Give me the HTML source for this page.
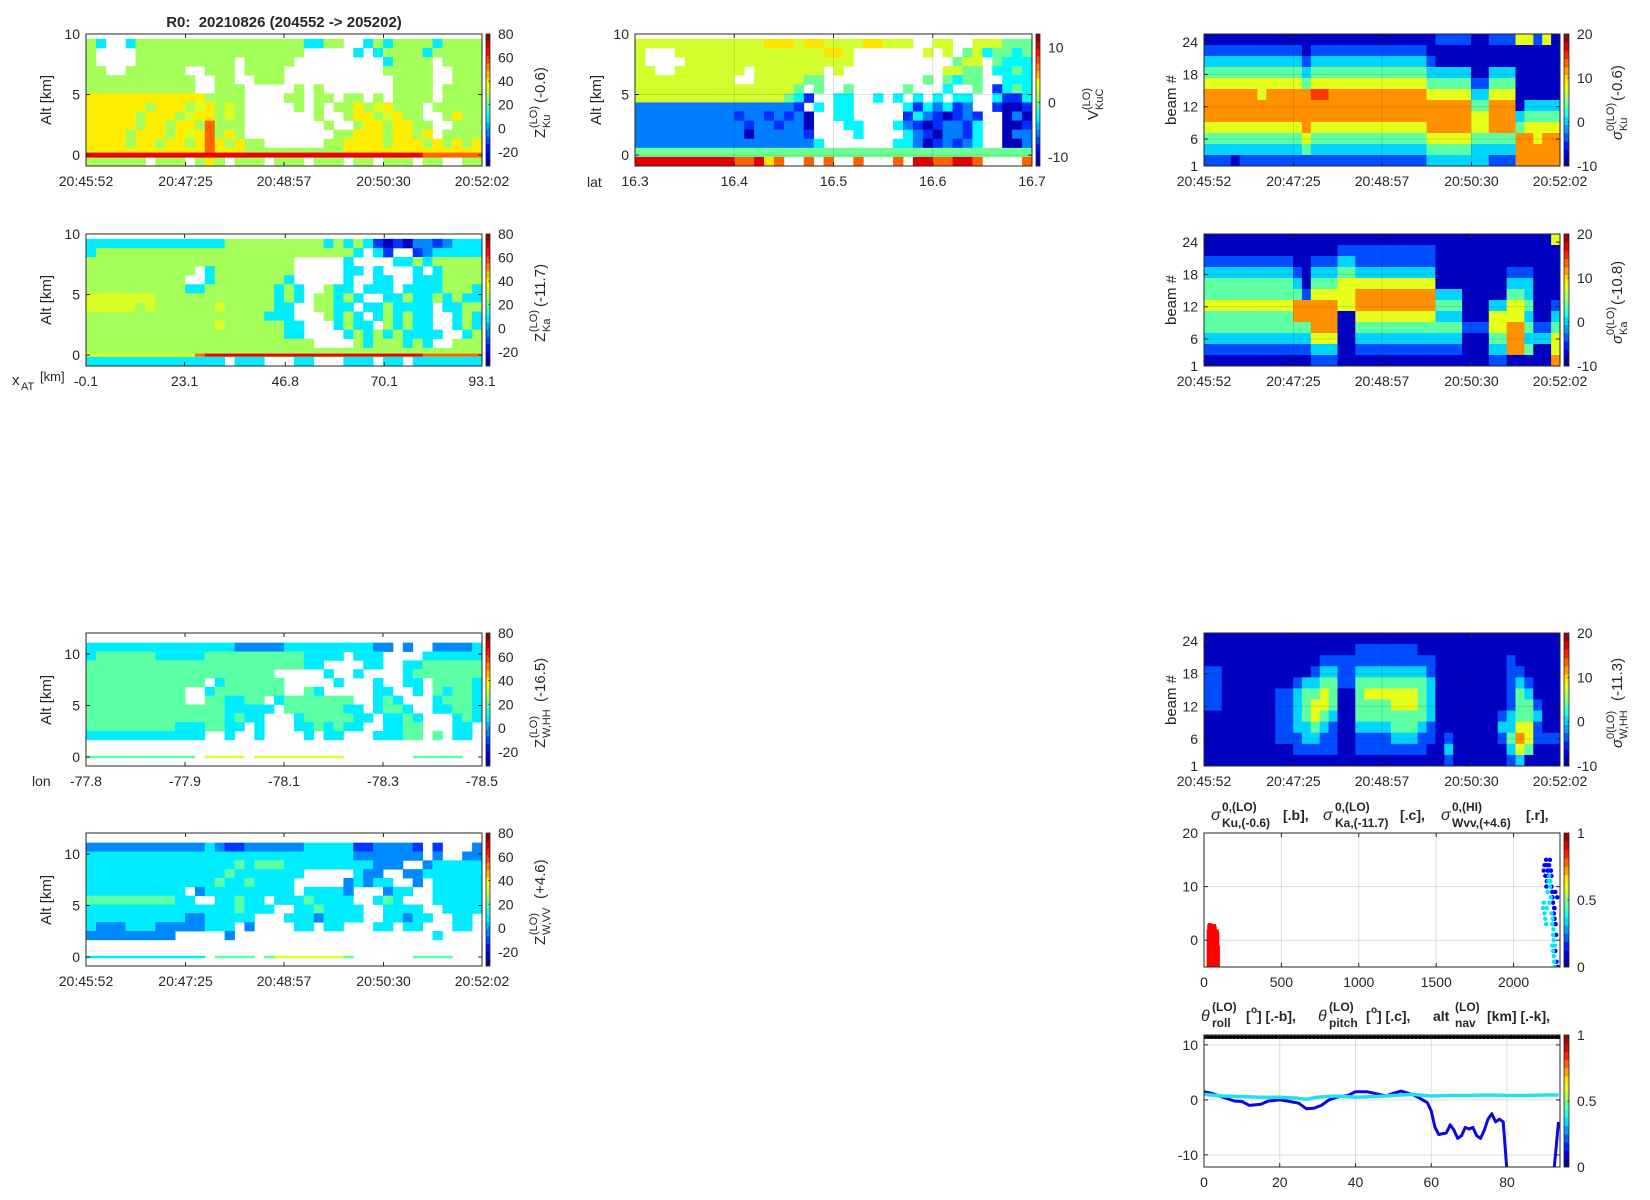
<!DOCTYPE html>
<html><head><meta charset="utf-8">
<style>
html,body{margin:0;padding:0;background:#fff;}
svg{display:block;font-family:"Liberation Sans",Arial,sans-serif;}
text{fill:#262626;}
</style></head>
<body>
<svg id="fig" width="1650" height="1200" viewBox="0 0 1650 1200" xmlns="http://www.w3.org/2000/svg">
<rect x="0" y="0" width="1650" height="1200" fill="#ffffff"/>
<defs>
<clipPath id="clipS"><rect x="1204" y="833" width="356" height="134"/></clipPath>
<clipPath id="clipP"><rect x="1204" y="1035" width="356" height="132"/></clipPath>
</defs>
<g id="layer"></g>

<text x="284" y="27" font-size="15" font-weight="bold" text-anchor="middle" xml:space="preserve">R0:  20210826 (204552 -&gt; 205202)</text>

<text transform="translate(51,100) rotate(-90)" font-size="15" text-anchor="middle">Alt [km]</text>
<text transform="translate(51,300) rotate(-90)" font-size="15" text-anchor="middle">Alt [km]</text>
<text transform="translate(601,100) rotate(-90)" font-size="15" text-anchor="middle">Alt [km]</text>
<text transform="translate(51,700) rotate(-90)" font-size="15" text-anchor="middle">Alt [km]</text>
<text transform="translate(51,900) rotate(-90)" font-size="15" text-anchor="middle">Alt [km]</text>
<text transform="translate(1176,100) rotate(-90)" font-size="15" text-anchor="middle">beam #</text>
<text transform="translate(1176,300) rotate(-90)" font-size="15" text-anchor="middle">beam #</text>
<text transform="translate(1176,700) rotate(-90)" font-size="15" text-anchor="middle">beam #</text>

<text x="587" y="187" font-size="14">lat</text>
<text x="32" y="786" font-size="14">lon</text>
<g>
<text x="12" y="385" font-size="15">x</text><text x="21" y="390" font-size="11">AT</text><text x="40" y="381" font-size="13">[km]</text>
</g>

<g transform="translate(545,100) rotate(-90)">
<text x="-38" y="0" font-size="15">Z</text><text x="-28" y="-8" font-size="11">(LO)</text><text x="-28" y="5" font-size="11">Ku</text><text x="-3" y="0" font-size="15">(-0.6)</text>
</g>
<g transform="translate(545,300) rotate(-90)">
<text x="-42" y="0" font-size="15">Z</text><text x="-32" y="-8" font-size="11">(LO)</text><text x="-32" y="5" font-size="11">Ka</text><text x="-7" y="0" font-size="15">(-11.7)</text>
</g>
<g transform="translate(545,700) rotate(-90)">
<text x="-48" y="0" font-size="15">Z</text><text x="-38" y="-8" font-size="11">(LO)</text><text x="-38" y="5" font-size="11">W,HH</text><text x="-2" y="0" font-size="15">(-16.5)</text>
</g>
<g transform="translate(545,900) rotate(-90)">
<text x="-45" y="0" font-size="15">Z</text><text x="-35" y="-8" font-size="11">(LO)</text><text x="-35" y="5" font-size="11">W,VV</text><text x="1" y="0" font-size="15">(+4.6)</text>
</g>
<g transform="translate(1098,98) rotate(-90)">
<text x="-22" y="0" font-size="15">V</text><text x="-12" y="-8" font-size="11">(LO)</text><text x="-12" y="5" font-size="11">KuC</text>
</g>
<g transform="translate(1622,100) rotate(-90)">
<text x="-40" y="0" font-size="15" font-style="italic">σ</text><text x="-31" y="-8" font-size="11">0(LO)</text><text x="-31" y="5" font-size="11">Ku</text><text x="-1" y="0" font-size="15">(-0.6)</text>
</g>
<g transform="translate(1622,300) rotate(-90)">
<text x="-44" y="0" font-size="15" font-style="italic">σ</text><text x="-35" y="-8" font-size="11">0(LO)</text><text x="-35" y="5" font-size="11">Ka</text><text x="-5" y="0" font-size="15">(-10.8)</text>
</g>
<g transform="translate(1622,700) rotate(-90)">
<text x="-48" y="0" font-size="15" font-style="italic">σ</text><text x="-39" y="-8" font-size="11">0(LO)</text><text x="-39" y="5" font-size="11">W,HH</text><text x="-1" y="0" font-size="15">(-11.3)</text>
</g>

<g font-weight="bold">
<text x="1211" y="820" font-size="16" font-style="italic" font-weight="normal">σ</text>
<text x="1222" y="811" font-size="12">0,(LO)</text>
<text x="1222" y="827" font-size="12">Ku,(-0.6)</text>
<text x="1283" y="820" font-size="14">[.b],</text>
<text x="1323" y="820" font-size="16" font-style="italic" font-weight="normal">σ</text>
<text x="1335" y="811" font-size="12">0,(LO)</text>
<text x="1335" y="827" font-size="12">Ka,(-11.7)</text>
<text x="1400" y="820" font-size="14">[.c],</text>
<text x="1441" y="820" font-size="16" font-style="italic" font-weight="normal">σ</text>
<text x="1452" y="811" font-size="12">0,(HI)</text>
<text x="1452" y="827" font-size="12">Wvv,(+4.6)</text>
<text x="1526" y="820" font-size="14">[.r],</text>
</g>
<g font-weight="bold">
<text x="1201" y="1021" font-size="16" font-style="italic" font-weight="normal">θ</text>
<text x="1212" y="1011" font-size="12">(LO)</text>
<text x="1212" y="1027" font-size="12">roll</text>
<text x="1246" y="1021" font-size="14">[</text><text x="1251" y="1013" font-size="10">o</text><text x="1257" y="1021" font-size="14">] [.-b],</text>
<text x="1318" y="1021" font-size="16" font-style="italic" font-weight="normal">θ</text>
<text x="1329" y="1011" font-size="12">(LO)</text>
<text x="1329" y="1027" font-size="12">pitch</text>
<text x="1366" y="1021" font-size="14">[</text><text x="1371" y="1013" font-size="10">o</text><text x="1377" y="1021" font-size="14">] [.c],</text>
<text x="1433" y="1021" font-size="14">alt</text>
<text x="1455" y="1011" font-size="12">(LO)</text>
<text x="1455" y="1027" font-size="12">nav</text>
<text x="1487" y="1021" font-size="14">[km] [.-k],</text>
</g>
</svg>

<script>
const zCodeChars = ['d','b','B','c','G','g','y','Y','o','r'];
const zCodeVals  = [-25,-12,-3,8,20,28,34,40,55,68];
const vCodeChars = ['d','b','B','c','g','y','Y','o','r'];
const vCodeVals  = [-10.2,-7.5,-5.6,-2.7,0,2.4,4.1,7.2,10.1];
const sCodeChars = ['d','b','c','g','y','o','r'];
const sCodeVals  = [-8,-4,0,4,8,12,14.6];

const timeTickLabels = ['20:45:52','20:47:25','20:48:57','20:50:30','20:52:02'];
const timeTickSec = [0,93,185,278,370];
const latTickLabels = ['16.3','16.4','16.5','16.6','16.7'];
const latTickVals = [16.3,16.4,16.5,16.6,16.7];
const xatTickLabels = ['-0.1','23.1','46.8','70.1','93.1'];
const xatTickVals = [-0.1,23.1,46.8,70.1,93.1];
const lonTickLabels = ['-77.8','-77.9','-78.1','-78.3','-78.5'];
const lonTickFrac = [0,0.25,0.5,0.75,1];
const altTicks10 = [0,5,10];
const altTicks12 = [0,5,10];
const beamTicks = [1,6,12,18,24];
const zCbTicks = [-20,0,20,40,60,80];
const vCbTicks = [-10,0,10];
const sCbTicks = [-10,0,10,20];
const unitCbTicks = [0,0.5,1];
const sigXTicks = [0,500,1000,1500,2000];
const sigYTicks = [0,10,20];
const attXTicks = [0,20,40,60,80];
const attYTicks = [-10,0,10];

const kuRows = [
"gc..cgggggggggggggggggccgg..cgcggggcgggg",
"g....ggggggggggggggggg.....c.cggggcggggg",
"g....gggggggggg.ggggg.........cgggg.gggg",
"gg..gggggg..ggg.gggg..........ggggg..ggg",
"ggggggggggg..gg..ggg...........gggg..ggg",
"ggggggggggg..ggg.....g.g.......gggg.gggg",
"YYYYYYYYYYYYgggg....gg.gg.gg.g.gggg.gggg",
"YYYYYYgYYYgyYgyg.....g.g.ggYgyYggg.ggggg",
"YYYYYgYYYgyYYgyg.......g..gYYgyYgg..gYgg",
"YYYYYgYYgYYgoggg........g..gYYgYYgg..ggg",
"YYYYgYYYgYyYogYg.........ggYYYgYYgY.gggg",
"YYYYgYYgYYgYoYgYgg......ggYYYYgYYYgYgYgY",
"YYYYYYYYYYYYoYYYggggggggggYYYYYYYYYYYYYY",
"gggggg.ggg.gYg.ggg.ggg.ggg.gg.ggg.gg..gg"];
const kuSurf = "rrrrrrrrrrrrrrrrrrrrrrrrrrrrrrrrrroooooo";

const kaRows = [
"ccccccccccccccggggggggggcgcgcbdbdBBbBccc",
"cggggggggggggggggggggggggggc.cb..bBccccc",
"ggggggggggggggggggggg.....c....ccgcggggg",
"ggggggggggg.cgggggggg.....cc.c...c.cgggg",
"gggggggggg..cgggggggc.....c..cc..cccgggg",
"ggggggggggccgggggggcgc..gcc.ccc.ccccgggc",
"yyyyyyyggggggggggggcgc.ggcgc..ccgccgcgcc",
"yyyyygyggggggygggggcc..ggcc.ccgcccc.ccgg",
"ggggggggggggggggggccc...gcgc.cgcgcc..cgc",
"gggggggggggggyggggggcc...cgcc.gcgcc..cgc",
"ggggggggggggggggggggcc....cgcgcgcccc..cg",
"ggggggggggggggggggggggg....gcgggcgc..ggg",
"gggggggggggggggggggggggggggggggggggggggg",
"cccccccccccccc.ccc...cc...ccc.cc.ccccccc"];
const kaSurf = "yyyyyyyyyyyorrrrrrrrrrrrrrrrrrrrrroooooo";

const vRows = [
"yyyyyyyyyyyyyYYYyYYyyyyYYyyy..yy..yyyggg",
"y...yyyyyyyyyyyyyyyYYy.......y.y.gycggcg",
"y....yyyyyyyyyyyyyyyyy..........gyy.gccc",
"yy..yyyyyyy.yyyyyyy.y..........yygg.ccgc",
"yyyyyyyyyy..yyyyygg..........g.gcgg..ccc",
"yyyyyyyyyyyyyyyyg.g..g.....g...c..g.bcgc",
"yyyyyyyyyyyyyyygcb..cc..c.c.c.c.cc..cbbc",
"BBBBBBBBBBBBBBBBb.c.cc.....cbcBcbB..bddb",
"BBBBBBBBBBbBBbBbBd..cc.....bcBbdbBb..dBd",
"BBBBBBBBBBBbBBbBBd...cc...cBbdbBBbc..ddb",
"BBBBBBBBBBBdBBBBBb....c....cBbdBBbc..dBB",
"BBBBBBBBBBBBBBBBBBc.......ccBdbBbBc..ddB",
"gggggggggggggggggggggggggggggggggggggggg",
"rrrrrrrrrroorYo..o.o..o...o.rroorro....o"];

const hhRows = [
"cccccccccccccccBBBBBcccccccccBB.B..BBBBc",
"cGGGGGGcccccGGGGGGGGGGcccc.ccc....cccccc",
"GGGGGGGGGGGGGGGGGGGGGGcc....cc..ccGGGGGG",
"GGGGGGGGGGGGGGGGGGG.....c..c....cGGGGGGG",
"GGGGGGGGGGGG.cGGGGGG.....c...c..cc.GGGGc",
"GGGGGGGGGG..cGGGGGGG..Gc.....cc..c.GcGGc",
"GGGGGGGGGG..GGccGG.cGGGGGGG..cGc...cGGGc",
"GGGGGGGGGGGGGGccccc.GGGGGGcc.cGGc..ccGGc",
"GGGGGGGGGGGGGGcGcc...cGGGGGcc.ccGc...cGc",
"GGGGGGGGGcccGGcc.c...ccGcGcc..ccGG...cc.",
"cccccccccccc..c..c....c.cc...cccGG.G.cc.",
"........................................",
"........................................",
"........................................"];
const hhSurf = "GGGGGGGGGGG.yyyy.yyyyyyyyy.......GGGGG..";

const vvRows = [
"BBBBBBBBBBBBcBbbBBBBBBcccccbbBBBBb.b...B",
"cccccccccccccccccccccccccccBBBBBBB.B..BB",
"cccccccccccccccGcGGGcccccccccBBB..Bccccc",
"ccccccccccccccGccccccc.....cBB..BBcccccc",
"cccccccccccccGccGcccc.....BcBcc..B.ccccc",
"cccccccccc.Bccccccccc.ccccB...Bcc..ccccc",
"GGGGGGGGGcc..ccGcc.cccGcccc..cGc...ccccc",
"cccccccccccccccGccc..ccGcccc..cccc..cccc",
"ccccccccccBBccccc...cccBcccc..ccBcc..cc.",
"cBBBcccBBBBBccc.B....cc.cc...cc.cc...cc.",
"BBBBBBBBB.....B....................c....",
"........................................",
"........................................",
"........................................"];
const vvSurf = "cccccccccccc.GGGG.GyyyyyyyG......GGGG...";

const kuSigCols = ["dbcgyoooygcb","dbcgyoooygcb","dbcgyoooygcb","dbcgyoooygcd","dbcgyoooygcb","dbcgyoooygcb","dbcgyyooygcb","dbcgyoooygcb","dbcgyoooygcb","dbcgyoooygcb","dbcgyoooygcb",
"ddbcgooooygb","dbcgyrooygcb","dbcgyrooygcb","dbcgyoooygcb","dbcgyoooygcb","dbcgyoooygcb","dbcgyoooygcb","dbcgyoooygcb","dbcgyoooygcb","dbcgyoooygcb","dbcgyoooygcb","dbcgyoooygcb","dbcgyoooygcb","dbcgyoooygcb",
"ddbcgyoooygc","bddcgyoooygc","bddcgyoooygc","bddcgyoooygc","bddcgyoooygc","ddddbcgyygcc","ddddbcgyygcc","bddcgyooogcb","bddcgyooogcb","bddcgyooogcb",
"yddddddcgooo","ydddddcgyooo","bdddddcgyyoo","ydddddcgyooo","ddddddcgyooo"];
const kaSigCols = ["ddbcggyggcbd","ddbcggyggcbd","ddbcggyggcbd","ddbcggyggcbd","ddbcggyggcbd","ddbcggyggcbd","ddbcggyggcbd","ddbcggyggcbd","ddbcggyggcbd","ddbcggyggcbd",
"dddbcgoogcbd","dddddboogcbd","ddbcgyoooycb","ddbcgyoooycb","ddbcgyoooycb","dbcgyyyddddd","dbcgyyyddddd",
"dbbcyooygcbd","dbbcyooygcbd","dbbcyooygcbd","dbbcyooygcbd","dbbcyooygcbd","dbbcyooygcbd","dbbcyooygcbd","dbbcyooygcbd","dbbcyooygcbd",
"dddddcgcgcbd","dddddcgcgcbd","dddddcgcgcbd","ddddddddbddd","ddddddddbddd","ddddddddbddd","ddddddcyygcb","ddddddcyygcb",
"dddbcgyyoood","dddbcgyyoood","dddbccgcgcgd","ddddddddbcdd","ddddddddbcdd","ydddddbcgyyo"];
const wSigCols = ["dddbbbbddddd","dddbbbbddddd","dddddddddddd","dddddddddddd","dddddddddddd","dddddddddddd","dddddddddddd","dddddddddddd","dddddbbbbbdd","dddddbbbbbdd",
"ddddbccccbbd","ddddcgggccbd","dddbcgyygcbd","ddbcgyygcbbd","ddbcgggcbbbd","ddbbbddddddd","ddbbbddddddd","dbbcggggcbbd","dbbcgyggcbbd","dbbcgyggcbbd",
"dbbcgyggcbbd","dbbcgyyggcbd","dbbcgyyggcbd","dbbcgyyggcbd","ddbcggggcbbd","ddbbccccbbdd","dddddddddddd","dddddddddbcb","dddddddddddd","dddddddddddd",
"dddddddddddd","dddddddddddd","dddddddddddd","dddddddbcbdd","ddbbbbbccgcb","dddbcgggyoyc","ddddbcggyygd","ddddddbcbbdd","dddddddddbdd","dddddddddbdd"];

const redX   = [30,34,38,42,46,50,54,58,62,66,70,74,78,82,86,90];
const redTop = [2,3,3.2,2.8,3,2.5,3,2,1.5,3,2.5,2,1.8,2,1.5,-1];
const blueX = [2195,2200,2205,2210,2215,2220,2225,2230,2235,2240,2245,2250,2255,2260,2265,2270,2212,2222,2232,2242,2252,2262,2272,2215,2225,2245,2265,2275,2270,2278,2282,2285];
const blueY = [13,14,12,15,11,13,12,14,15,13,10,9,7,5,6,9,10,12,11,13,8,6,3,14,13,12,4,1,-2,-4,8,-5];
const cyanX = [2190,2195,2200,2205,2210,2215,2220,2225,2230,2235,2240,2245,2250,2255,2260,2250,2255,2260,2262,2265,2268,2258,2252,2232,2238];
const cyanY = [6,7,5,4,3,6,9,11,12,10,8,5,3,1,0,-1,-2,-3,-4,-5,-1,2,4,7,11];

const rollX = [0,2,5,8,10,12,15,17,20,22,25,27,29,31,33,35,38,40,43,45,48,50,52,55,57,59,60,61,62,64,65,66,67,68,69,70,71,72,73,74,75,76,77,78,79,80];
const rollY = [1.5,1.2,0.5,-0.2,-0.3,-1,-0.8,-0.2,0,-0.2,-0.6,-1.6,-1.5,-1,0,0.5,0.8,1.5,1.5,1.2,0.7,1.2,1.6,1,0.3,-0.5,-2,-5,-6.3,-6,-4.5,-5.5,-7,-6.5,-5,-5.3,-5,-6.5,-7,-5.5,-3.5,-2.5,-4,-3.5,-4,-13];
const roll2X = [92.4,93.6];
const roll2Y = [-13,-4];
const pitchX = [0,5,10,15,20,25,27,30,35,40,45,50,55,60,65,70,75,80,85,90,93.6];
const pitchY = [1,0.7,0.6,0.5,0.5,0.3,0.1,0.5,0.7,0.5,0.6,0.8,1,0.7,0.8,0.8,0.9,0.8,0.8,0.9,0.9];
const navX = [0,5,10,15,20,25,30,35,40,45,50,55,60,65,70,75,80,85,90,93.6];
const navY = [11.4,11.4,11.4,11.4,11.4,11.4,11.4,11.4,11.4,11.4,11.4,11.4,11.4,11.4,11.4,11.4,11.4,11.4,11.4,11.4];

const NS='http://www.w3.org/2000/svg';
const root=document.getElementById('layer');
function mk(tag,attrs,parent){const e=document.createElementNS(NS,tag);for(const k in attrs)e.setAttribute(k,attrs[k]);(parent||root).appendChild(e);return e;}
function lin(d0,d1,r0,r1){return v=>r0+(v-d0)/(d1-d0)*(r1-r0);}
function jet(t){t=Math.max(0,Math.min(1,t));const c=x=>Math.round(255*Math.max(0,Math.min(1,1.5-Math.abs(x))));return 'rgb('+c(4*t-3)+','+c(4*t-2)+','+c(4*t-1)+')';}
function codeVal(chars,vals,ch){const i=chars.indexOf(ch);return i<0?null:vals[i];}
function fix(s,n){s=s||'';while(s.length<n)s+='.';return s.slice(0,n);}

const TX='#262626';
function makeGroup(name){const g=mk('g',{});


return g;}

function rowHeatmap(g,rows,chars,vals,vmin,vmax,box,xDomN,yDom,topAlt,rowH){
  const xs=lin(0,xDomN,box.x0,box.x1), ys=lin(yDom[0],yDom[1],box.y1,box.y0);
  rows.forEach((rw,i)=>{rw=fix(rw,xDomN);
    let j=0;
    while(j<xDomN){const ch=rw[j];let k=j;while(k<xDomN&&rw[k]===ch)k++;
      const v=codeVal(chars,vals,ch);
      if(v!==null){
        const ya=ys(topAlt-i*rowH), yb=ys(topAlt-(i+1)*rowH);
        const r=mk('rect',{x:xs(j).toFixed(2),y:ya.toFixed(2),width:(xs(k)-xs(j)+0.4).toFixed(2),height:(yb-ya+0.4).toFixed(2),fill:jet((v-vmin)/(vmax-vmin))},g);
        
        
      }
      j=k;}
  });
}
function colHeatmap(g,cols,chars,vals,vmin,vmax,box,yDom){
  const n=cols.length, xs=lin(0,n,box.x0,box.x1), ys=lin(yDom[0],yDom[1],box.y1,box.y0);
  const nr=12, h=(yDom[1]-yDom[0])/nr;
  cols.forEach((c,j)=>{c=fix(c,nr).replace(/\./g,'d');
    for(let i=0;i<nr;i++){const v=codeVal(chars,vals,c[i]);if(v===null)continue;
      const ya=ys(yDom[1]-i*h), yb=ys(yDom[1]-(i+1)*h);
      const r=mk('rect',{x:xs(j).toFixed(2),y:ya.toFixed(2),width:(xs(j+1)-xs(j)+0.4).toFixed(2),height:(yb-ya+0.4).toFixed(2),fill:jet((v-vmin)/(vmax-vmin))},g);
      
      
    }});
}
function surfLine(g,codes,chars,vals,vmin,vmax,box,n,yPix,th){
  const xs=lin(0,n,box.x0,box.x1);codes=fix(codes,n);
  for(let j=0;j<n;j++){const v=codeVal(chars,vals,codes[j]);if(v===null)continue;
    const r=mk('rect',{x:xs(j).toFixed(2),y:(yPix-th/2).toFixed(2),width:(xs(j+1)-xs(j)+0.4).toFixed(2),height:th,fill:jet((v-vmin)/(vmax-vmin))},g);
    
    
  }
}
function gridLines(g,box,xp,yp,color,op){
  xp.forEach(x=>{const l=mk('line',{x1:x,x2:x,y1:box.y0,y2:box.y1,stroke:color,'stroke-opacity':op,'stroke-width':1},g);
    
    });
  yp.forEach(y=>{const l=mk('line',{x1:box.x0,x2:box.x1,y1:y,y2:y,stroke:color,'stroke-opacity':op,'stroke-width':1},g);
    
    });
}
function axesFrame(g,box,xp,xl,yp,yl){
  const f=mk('rect',{x:box.x0,y:box.y0,width:box.x1-box.x0,height:box.y1-box.y0,fill:'none',stroke:TX,'stroke-width':1},g);
  
  
  xp.forEach((x,i)=>{
    mk('line',{x1:x,x2:x,y1:box.y1,y2:box.y1-4,stroke:TX},g);
    mk('line',{x1:x,x2:x,y1:box.y0,y2:box.y0+4,stroke:TX},g);
    const t=mk('text',{x:x,y:box.y1+20,'font-size':14,'text-anchor':'middle'},g);t.textContent=xl[i];
    
    
  });
  yp.forEach((y,i)=>{
    mk('line',{x1:box.x0,x2:box.x0+4,y1:y,y2:y,stroke:TX},g);
    mk('line',{x1:box.x1,x2:box.x1-4,y1:y,y2:y,stroke:TX},g);
    const t=mk('text',{x:box.x0-6,y:y+5,'font-size':14,'text-anchor':'end'},g);t.textContent=yl[i];
    
    
  });
}
function colorbar(g,cb,dom,ticks,nSteps){
  const h=(cb.y1-cb.y0)/nSteps;
  for(let k=0;k<nSteps;k++){
    const r=mk('rect',{x:cb.x0,y:(cb.y1-(k+1)*h).toFixed(2),width:cb.x1-cb.x0,height:(h+0.3).toFixed(2),fill:jet((k+0.5)/nSteps)},g);
    
    
  }
  mk('rect',{x:cb.x0,y:cb.y0,width:cb.x1-cb.x0,height:cb.y1-cb.y0,fill:'none',stroke:TX,'stroke-width':0.8},g);
  const ys=lin(dom[0],dom[1],cb.y1,cb.y0);
  ticks.forEach(v=>{const y=ys(v);
    mk('line',{x1:cb.x1-1.5,x2:cb.x1,y1:y,y2:y,stroke:TX},g);
    const t=mk('text',{x:cb.x1+8,y:y+5,'font-size':14},g);t.textContent=String(v);
    
    
  });
}

const Z_DOM=[-32,80], V_DOM=[-11.6,12.5], S_DOM=[-10,20];
const ALT10=[-0.9,10], ALT12=[-0.87,12.04], BEAM=[1,25.5];
const colL={x0:86,x1:482}, cbL={x0:486,x1:490};
const colR={x0:1204,x1:1560}, cbR={x0:1564,x1:1569};
const T_END=370;

function timeXPos(box){const xs=lin(0,T_END,box.x0,box.x1);return timeTickSec.map(xs);}
function yPos(box,dom,ticks){const ys=lin(dom[0],dom[1],box.y1,box.y0);return ticks.map(ys);}

(function(){const box={x0:colL.x0,x1:colL.x1,y0:34,y1:166};const g=makeGroup('ku-reflectivity-panel');
 rowHeatmap(g,kuRows,zCodeChars,zCodeVals,Z_DOM[0],Z_DOM[1],box,40,ALT10,9.6,0.75);
 surfLine(g,kuSurf,zCodeChars,zCodeVals,Z_DOM[0],Z_DOM[1],box,40,lin(ALT10[0],ALT10[1],box.y1,box.y0)(0),5);
 axesFrame(g,box,timeXPos(box),timeTickLabels,yPos(box,ALT10,altTicks10),altTicks10.map(String));
 colorbar(makeGroup('ku-colorbar'),{x0:cbL.x0,x1:cbL.x1,y0:box.y0,y1:box.y1},Z_DOM,zCbTicks,18);})();
(function(){const box={x0:colL.x0,x1:colL.x1,y0:234,y1:366};const g=makeGroup('ka-reflectivity-panel');
 rowHeatmap(g,kaRows,zCodeChars,zCodeVals,Z_DOM[0],Z_DOM[1],box,40,ALT10,9.6,0.75);
 surfLine(g,kaSurf,zCodeChars,zCodeVals,Z_DOM[0],Z_DOM[1],box,40,lin(ALT10[0],ALT10[1],box.y1,box.y0)(0),3);
 const xs=lin(-0.1,93.1,box.x0,box.x1);
 axesFrame(g,box,xatTickVals.map(xs),xatTickLabels,yPos(box,ALT10,altTicks10),altTicks10.map(String));
 colorbar(makeGroup('ka-colorbar'),{x0:cbL.x0,x1:cbL.x1,y0:box.y0,y1:box.y1},Z_DOM,zCbTicks,18);})();
(function(){const box={x0:635,x1:1032,y0:34,y1:166};const g=makeGroup('kuc-velocity-panel');
 rowHeatmap(g,vRows,vCodeChars,vCodeVals,V_DOM[0],V_DOM[1],box,40,ALT10,9.6,0.75);
 const xs=lin(16.3,16.7,box.x0,box.x1);
 gridLines(g,box,latTickVals.map(xs),yPos(box,ALT10,altTicks10),'#000',0.12);
 axesFrame(g,box,latTickVals.map(xs),latTickLabels,yPos(box,ALT10,altTicks10),altTicks10.map(String));
 colorbar(makeGroup('v-colorbar'),{x0:1036,x1:1040,y0:box.y0,y1:box.y1},V_DOM,vCbTicks,18);})();
(function(){const box={x0:colL.x0,x1:colL.x1,y0:633,y1:766};const g=makeGroup('w-hh-reflectivity-panel');
 rowHeatmap(g,hhRows,zCodeChars,zCodeVals,Z_DOM[0],Z_DOM[1],box,40,ALT12,11.1,0.857);
 surfLine(g,hhSurf,zCodeChars,zCodeVals,Z_DOM[0],Z_DOM[1],box,40,lin(ALT12[0],ALT12[1],box.y1,box.y0)(0),2.5);
 const xs=lin(0,1,box.x0,box.x1);
 axesFrame(g,box,lonTickFrac.map(xs),lonTickLabels,yPos(box,ALT12,altTicks12),altTicks12.map(String));
 colorbar(makeGroup('whh-colorbar'),{x0:cbL.x0,x1:cbL.x1,y0:box.y0,y1:box.y1},Z_DOM,zCbTicks,18);})();
(function(){const box={x0:colL.x0,x1:colL.x1,y0:833,y1:966};const g=makeGroup('w-vv-reflectivity-panel');
 rowHeatmap(g,vvRows,zCodeChars,zCodeVals,Z_DOM[0],Z_DOM[1],box,40,ALT12,11.1,0.857);
 surfLine(g,vvSurf,zCodeChars,zCodeVals,Z_DOM[0],Z_DOM[1],box,40,lin(ALT12[0],ALT12[1],box.y1,box.y0)(0),2.5);
 axesFrame(g,box,timeXPos(box),timeTickLabels,yPos(box,ALT12,altTicks12),altTicks12.map(String));
 colorbar(makeGroup('wvv-colorbar'),{x0:cbL.x0,x1:cbL.x1,y0:box.y0,y1:box.y1},Z_DOM,zCbTicks,18);})();
[[kuSigCols,34,166,'ku-sigma0-beam-panel'],[kaSigCols,234,366,'ka-sigma0-beam-panel'],[wSigCols,633,766,'w-sigma0-beam-panel']].forEach(p=>{
 const box={x0:colR.x0,x1:colR.x1,y0:p[1],y1:p[2]};const g=makeGroup(p[3]);
 colHeatmap(g,p[0],sCodeChars,sCodeVals,S_DOM[0],S_DOM[1],box,BEAM);
 gridLines(g,box,timeXPos(box).slice(1,4),yPos(box,BEAM,beamTicks).slice(1,4),'#000',0.12);
 axesFrame(g,box,timeXPos(box),timeTickLabels,yPos(box,BEAM,beamTicks),beamTicks.map(String));
 colorbar(makeGroup(p[3]+'-colorbar'),{x0:cbR.x0,x1:cbR.x1,y0:box.y0,y1:box.y1},S_DOM,sCbTicks,16);
});
(function(){const box={x0:colR.x0,x1:colR.x1,y0:833,y1:967};const g=makeGroup('sigma0-timeseries-panel');
 const xs=lin(0,2300,box.x0,box.x1), ys=lin(-5,20,box.y1,box.y0);
 gridLines(g,box,sigXTicks.slice(1).map(xs),sigYTicks.map(ys),'#000',0.13);
 const d=mk('g',{'clip-path':'url(#clipS)'},g);
 redX.forEach((x,i)=>{const r=mk('rect',{x:xs(x)-2,y:ys(redTop[i]),width:4,height:ys(-5)-ys(redTop[i]),fill:'#ff0000'},d);
   
   });
 blueX.forEach((x,i)=>{const c=mk('circle',{cx:xs(x),cy:ys(blueY[i]),r:2.2,fill:'#0000ff'},d);
   
   });
 cyanX.forEach((x,i)=>{const c=mk('circle',{cx:xs(x),cy:ys(cyanY[i]),r:2.2,fill:'#00e5ff'},d);
   
   });
 axesFrame(g,box,sigXTicks.map(xs),sigXTicks.map(String),sigYTicks.map(ys),sigYTicks.map(String));
 colorbar(makeGroup('sigma0-timeseries-colorbar'),{x0:cbR.x0,x1:cbR.x1,y0:box.y0,y1:box.y1},[0,1],unitCbTicks,16);})();
(function(){const box={x0:colR.x0,x1:colR.x1,y0:1035,y1:1167};const g=makeGroup('attitude-panel');
 const xs=lin(0,94,box.x0,box.x1), ys=lin(-12.2,11.8,box.y1,box.y0);
 gridLines(g,box,attXTicks.slice(1).map(xs),attYTicks.map(ys),'#000',0.13);
 const d=mk('g',{'clip-path':'url(#clipP)'},g);
 function poly(X,Y,col,w,name){const pts=X.map((x,i)=>xs(x).toFixed(1)+','+ys(Y[i]).toFixed(1)).join(' ');
   const p=mk('polyline',{points:pts,fill:'none',stroke:col,'stroke-width':w,'stroke-linejoin':'round'},d);
   
   
   return p;}
 poly(navX,navY,'#000',3,'nav-altitude-line');
 navX.forEach((x,i)=>{for(let k=0;k<5;k++){const xx=x+k*1.0;if(xx>94)break;
   const c=mk('circle',{cx:xs(xx),cy:ys(navY[i]),r:1.8,fill:'#000'},d);
   
   }});
 poly(rollX,rollY,'#0a0ae0',3,'roll-line');
 poly(roll2X,roll2Y,'#0a0ae0',3,'roll-line-end');
 poly(pitchX,pitchY,'#22e0f0',3.5,'pitch-line');
 axesFrame(g,box,attXTicks.map(xs),attXTicks.map(String),attYTicks.map(ys),attYTicks.map(String));
 colorbar(makeGroup('attitude-colorbar'),{x0:cbR.x0,x1:cbR.x1,y0:box.y0,y1:box.y1},[0,1],unitCbTicks,16);})();
</script>
</body></html>
